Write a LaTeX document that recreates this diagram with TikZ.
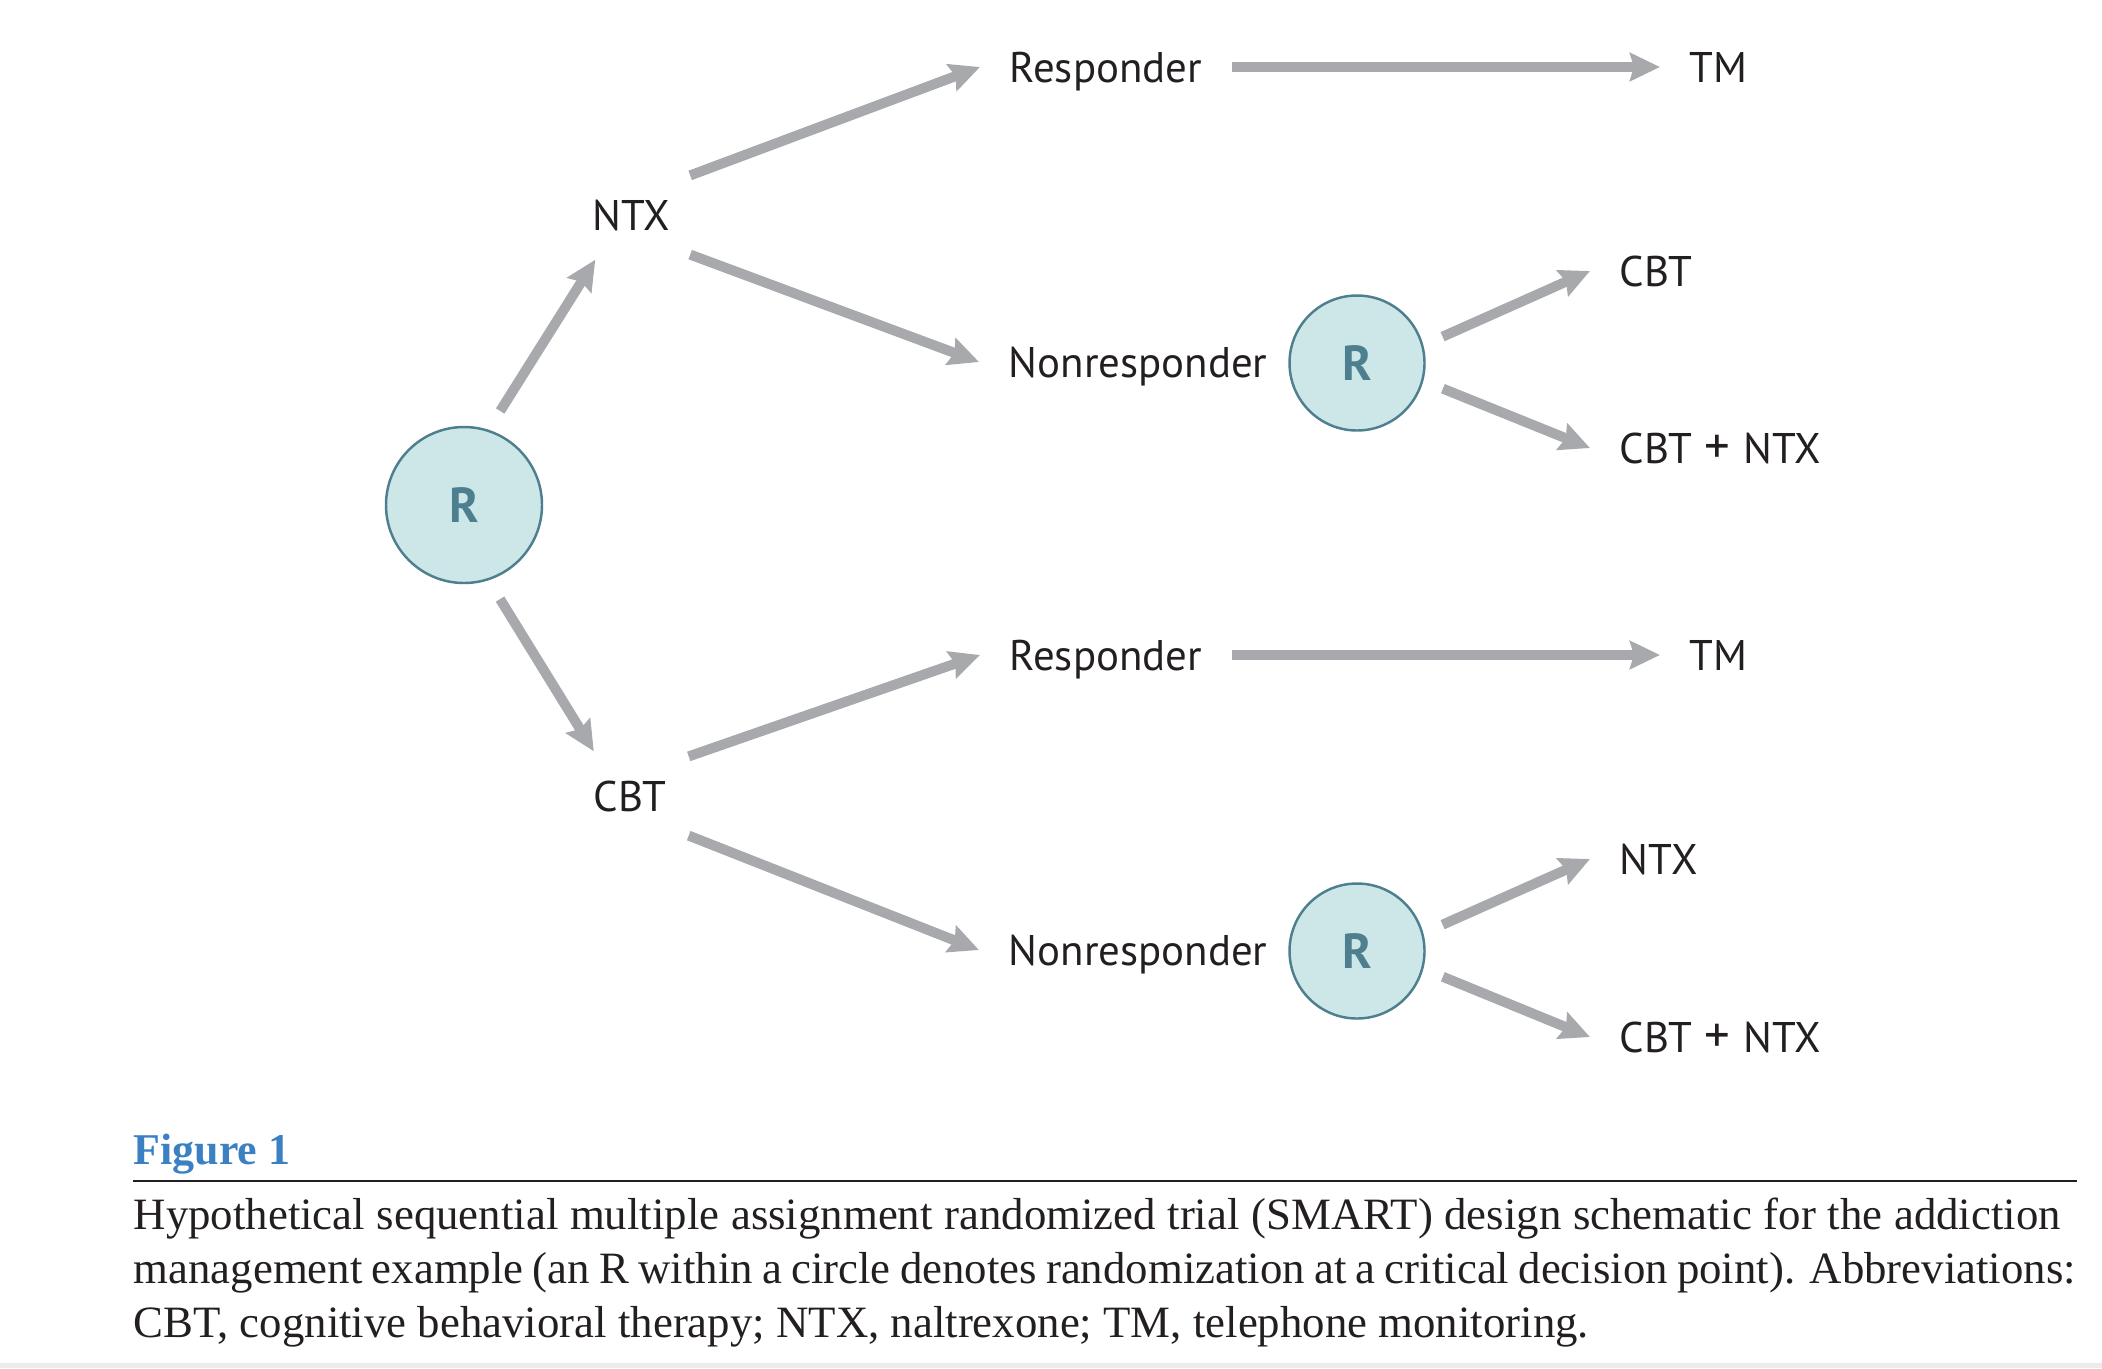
\documentclass[tikz,border=0pt]{standalone}
\usepackage{fontspec}
\setmainfont{Liberation Serif}
\newfontfamily\labelfont{PT Sans}
\usetikzlibrary{arrows.meta}
\definecolor{flowgray}{HTML}{A7A9AC}
\definecolor{randfill}{HTML}{CDE7E9}
\definecolor{randline}{HTML}{4E7F8E}
\definecolor{figblue}{HTML}{3A80C3}
\definecolor{inkblack}{HTML}{231F20}
\newcommand{\combo}{CBT\hspace{0.3em}{\fontsize{14.5}{14}\selectfont+}\hspace{0.3em}NTX}

\begin{document}
\begin{tikzpicture}[
  lbl/.style={font=\labelfont\fontsize{12.2}{14}\selectfont, text=inkblack,
    inner xsep=0.29cm, inner ysep=0pt, text height=0.40cm, text depth=0.10cm,
    anchor=base west},
  stage/.style={font=\labelfont\fontsize{12.2}{14}\selectfont, text=inkblack,
    inner sep=0pt, minimum width=1.16cm, minimum height=0.88cm},
  rand/.style={circle, draw=randline, line width=0.7pt, fill=randfill,
    text=randline, font=\labelfont\bfseries\fontsize{14}{14}\selectfont, inner sep=0pt},
  flow/.style={draw=flowgray, line width=0.1cm,
    -{Stealth[length=0.3cm, width=0.28cm, inset=0.04cm]}},
  captext/.style={anchor=base west, inner sep=0pt, text=inkblack,
    font=\fontsize{12.75}{15}\selectfont},
]
\useasboundingbox (0,0) rectangle (21.02,-13.68);

% ===== first randomization =====
\node[rand, minimum size=1.56cm] (R0) at (4.64,-5.05) {R};
\node[stage] (ntx) at (6.315,-2.15) {NTX};
\node[stage] (cbt) at (6.30,-7.96) {CBT};
\draw[flow, shorten <=0.22cm] (R0.72) -- (ntx.-129);
\draw[flow, shorten <=0.22cm] (R0.-72) -- (cbt.129);

% ===== NTX branch =====
\node[lbl] (resp1) at (9.80,-0.82) {Responder};
\node[lbl] (tm1) at (16.60,-0.82) {TM};
\node[lbl] (nonresp1) at (9.79,-3.77) {Nonresponder};
\node[rand, minimum size=1.35cm] (R1) at (13.57,-3.63) {R};
\node[lbl] (cbtA) at (15.90,-2.86) {CBT};
\node[lbl] (comboA) at (15.90,-4.63) {\combo};
\draw[flow] (ntx.34) -- (resp1.west);
\draw[flow] (ntx.-34) -- (nonresp1.west);
\draw[flow] (resp1.east) -- (tm1.west);
\draw[flow, shorten <=0.21cm] (R1.15) -- (cbtA.west);
\draw[flow, shorten <=0.21cm] (R1.-15) -- (comboA.west);

% ===== CBT branch =====
\node[lbl] (resp2) at (9.80,-6.70) {Responder};
\node[lbl] (tm2) at (16.60,-6.70) {TM};
\node[lbl] (nonresp2) at (9.79,-9.65) {Nonresponder};
\node[rand, minimum size=1.35cm] (R2) at (13.57,-9.51) {R};
\node[lbl] (ntxB) at (15.90,-8.74) {NTX};
\node[lbl] (comboB) at (15.90,-10.52) {\combo};
\draw[flow] (cbt.34) -- (resp2.west);
\draw[flow] (cbt.-34) -- (nonresp2.west);
\draw[flow] (resp2.east) -- (tm2.west);
\draw[flow, shorten <=0.21cm] (R2.15) -- (ntxB.west);
\draw[flow, shorten <=0.21cm] (R2.-15) -- (comboB.west);

% ===== caption =====
\node[anchor=base west, inner sep=0pt, text=figblue,
  font=\bfseries\fontsize{12.5}{15}\selectfont] (fig) at (1.33,-11.64) {Figure 1};
\draw[inkblack, line width=0.02cm] (1.33,-11.81) -- (20.77,-11.81);
\node[captext] (cap1) at (1.33,-12.29) {\makebox[19.27cm][s]{Hypothetical sequential multiple assignment randomized trial (SMART) design schematic for the addiction}};
\node[captext] (cap2) at (1.33,-12.83) {\makebox[19.42cm][s]{management example (an R within a circle denotes randomization at a critical decision point). Abbreviations:}};
\node[captext] (cap3) at (1.33,-13.37) {CBT, cognitive behavioral therapy; NTX, naltrexone; TM, telephone monitoring.};
\fill[black!8] (0,-13.63) rectangle (21.02,-13.68);
\end{tikzpicture}
\end{document}
